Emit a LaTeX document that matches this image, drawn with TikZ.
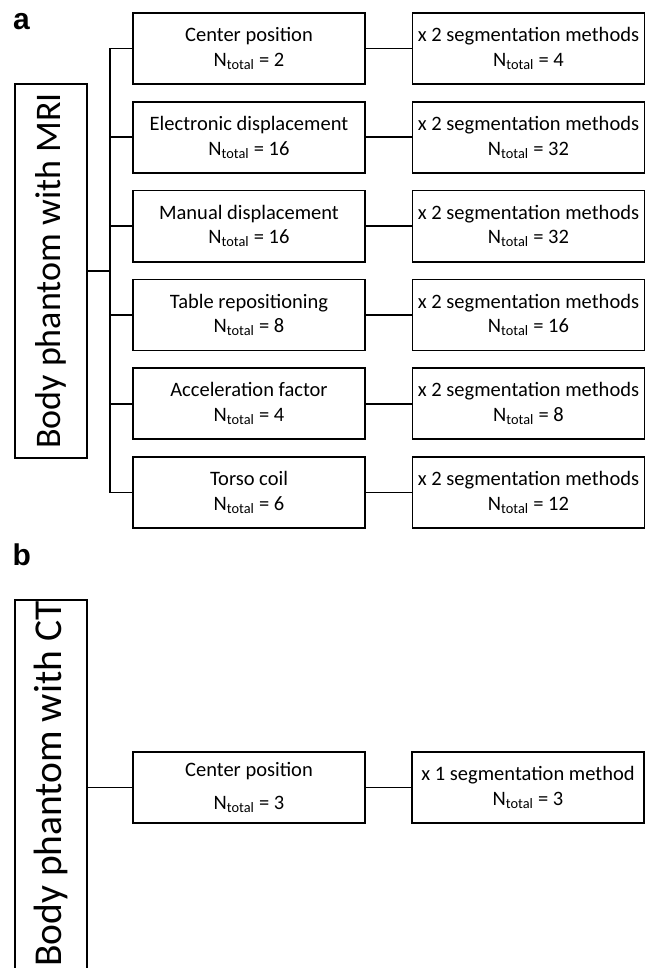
\documentclass[tikz,border=0pt]{standalone}
\usepackage{fontspec}
\setmainfont{Carlito}
\newfontfamily\labelfont{Liberation Sans}
\begin{document}
\begin{tikzpicture}[x=1pt,y=-1pt,
  box/.style={draw,line width=1.8pt,minimum width=232pt,minimum height=71pt,inner sep=0pt,align=center,font=\fontsize{20.5}{24.5}\selectfont},
  tall/.style={draw,line width=1.8pt,minimum width=72pt,inner sep=0pt,font=\fontsize{36}{40}\selectfont},
  conn/.style={line width=1.8pt},
  panel/.style={font=\labelfont\bfseries\fontsize{30}{32}\selectfont,anchor=base west,inner sep=0pt}]
\useasboundingbox (0,0) rectangle (647,968);
\clip (0,0) rectangle (647,968);
\node[panel] (pa) at (13,30) {a};
\node[panel] (pb) at (12.5,565) {b};
% panel a
\node[tall,minimum height=374pt] (mri) at (51,271) {\rotatebox{90}{Body phantom with MRI}};
\coordinate (trunk) at (110,271);
\foreach \i/\t/\n/\m in {1/Center position/2/4, 2/Electronic displacement/16/32, 3/Manual displacement/16/32, 4/Table repositioning/8/16, 5/Acceleration factor/4/8, 6/Torso coil/6/12}{
  \node[box] (l\i) at (249,{48.5+88.8*(\i-1)}) {\t\\N\textsubscript{total} = \n};
  \node[box] (r\i) at (528.5,{48.5+88.8*(\i-1)}) {x 2 segmentation methods\\N\textsubscript{total} = \m};
  \draw[conn] (trunk |- l\i.west) -- (l\i.west);
  \draw[conn] (l\i.east) -- (r\i.west);
}
\draw[conn] (mri.east) -- (trunk);
\draw[conn] (trunk |- l1.west) -- (trunk |- l6.west);
% panel b
\node[inner sep=0pt,font=\fontsize{39.5}{44}\selectfont] (ct) at (51,784) {\rotatebox{90}{Body phantom with CT}};
\coordinate (ctne) at (87,600);
\coordinate (ctnw) at (15,600);
\draw[conn] (ctnw |- 0,975) -- (ctnw) -- (ctne) -- (ctne |- 0,975);
\node[box] (cl) at (249,787.5) {Center position\\[8pt]N\textsubscript{total} = 3};
\node[box] (cr) at (528,787.5) {x 1 segmentation method\\N\textsubscript{total} = 3};
\draw[conn] (ctne |- cl.west) -- (cl.west);
\draw[conn] (cl.east) -- (cr.west);
\end{tikzpicture}
\end{document}
